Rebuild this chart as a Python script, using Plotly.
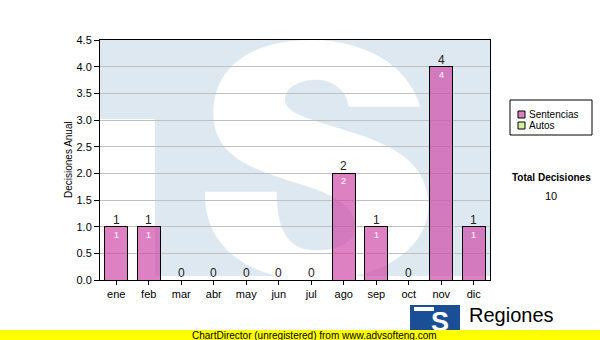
import plotly.graph_objects as go

# ---- data ----
months = ["ene", "feb", "mar", "abr", "may", "jun", "jul", "ago", "sep", "oct", "nov", "dic"]
sentencias = [1, 1, 0, 0, 0, 0, 0, 2, 1, 0, 4, 1]
autos = [0, 0, 0, 0, 0, 0, 0, 0, 0, 0, 0, 0]
y_ticks = [0.0, 0.5, 1.0, 1.5, 2.0, 2.5, 3.0, 3.5, 4.0, 4.5]
series_names = ["Sentencias", "Autos"]
y_title = "Decisiones Anual"
total_title = "Total Decisiones"

totals = [a + b for a, b in zip(sentencias, autos)]
grand_total = sum(totals)

# ---- layout geometry (pixels) ----
W, H = 600, 340
L, R, T, B = 100, 490, 40, 280
PW, PH = R - L, B - T


def px(x):
    return (x - L) / PW


def py(y):
    return (B - y) / PH


BAR_FILL = "rgba(206,70,165,0.68)"
AUTOS_FILL = "#d6f0a2"
WM = "rgb(222,232,241)"
FONT = "Liberation Sans, Arial, sans-serif"

fig = go.Figure()
fig.add_trace(go.Bar(x=months, y=sentencias, name=series_names[0],
                     marker=dict(color=BAR_FILL, line=dict(color="black", width=1)),
                     showlegend=False, hoverinfo="skip"))
fig.add_trace(go.Bar(x=months, y=autos, name=series_names[1],
                     marker=dict(color=AUTOS_FILL, line=dict(color="black", width=1)),
                     showlegend=False, hoverinfo="skip"))

shapes = []
# watermark (decorative logo) in plot-domain coordinates
shapes.append(dict(type="rect", xref="x domain", yref="y domain", layer="below",
                   x0=0, x1=1, y0=py(119), y1=1, fillcolor=WM, line=dict(width=0)))
shapes.append(dict(type="rect", xref="x domain", yref="y domain", layer="below",
                   x0=px(155), x1=1, y0=py(276), y1=py(119), fillcolor=WM, line=dict(width=0)))


def zp(zx, zy):
    X = 95 + zx / 3.0
    Y = 30 + zy / 3.0
    return "%.4f,%.4f" % (px(X), py(Y))


s_cmds = [
    ("M", [(975, 230)]),
    ("C", [(940, 100), (800, 30), (650, 30)]),
    ("C", [(470, 30), (355, 110), (355, 250)]),
    ("C", [(355, 380), (470, 420), (640, 470)]),
    ("C", [(730, 500), (790, 540), (780, 600)]),
    ("C", [(770, 650), (700, 665), (650, 660)]),
    ("C", [(580, 655), (545, 600), (545, 485)]),
    ("L", [(330, 485)]),
    ("C", [(325, 650), (460, 750), (660, 750)]),
    ("C", [(880, 750), (1005, 640), (1000, 520)]),
    ("C", [(995, 400), (900, 350), (780, 310)]),
    ("C", [(640, 265), (565, 250), (570, 205)]),
    ("C", [(575, 160), (640, 145), (680, 150)]),
    ("C", [(730, 160), (760, 195), (760, 230)]),
]
path = " ".join(c + " " + " ".join(zp(*p) for p in pts) for c, pts in s_cmds) + " Z"
shapes.append(dict(type="path", xref="x domain", yref="y domain", layer="below",
                   path=path, fillcolor="white", line=dict(width=0)))

# legend box
shapes.append(dict(type="rect", xref="paper", yref="paper", x0=px(510), x1=px(592),
                   y0=py(135), y1=py(100), line=dict(color="black", width=1), fillcolor="white"))
shapes.append(dict(type="rect", xref="paper", yref="paper", x0=px(518), x1=px(525),
                   y0=py(118), y1=py(111), line=dict(color="black", width=1), fillcolor="#dd80c0"))
shapes.append(dict(type="rect", xref="paper", yref="paper", x0=px(518), x1=px(525),
                   y0=py(129), y1=py(122), line=dict(color="black", width=1), fillcolor=AUTOS_FILL))
# bottom logo
shapes.append(dict(type="rect", xref="paper", yref="paper", x0=px(410), x1=px(460),
                   y0=py(340), y1=py(305), line=dict(width=0), fillcolor="#1b4f95"))
shapes.append(dict(type="rect", xref="paper", yref="paper", x0=px(414), x1=px(434),
                   y0=py(311), y1=py(307), line=dict(width=0), fillcolor="white"))

ann = []


def A(**kw):
    kw.setdefault("xanchor", "center")
    kw.setdefault("yanchor", "middle")
    kw.setdefault("showarrow", False)
    ann.append(kw)


# value labels
for m, t, s in zip(months, totals, sentencias):
    A(x=m, y=t, xref="x", yref="y", text=str(t), yshift=7,
      font=dict(family=FONT, size=12, color="#222"))
    if s > 0:
        A(x=m, y=s, xref="x", yref="y", text=str(s), yshift=-8,
          font=dict(family=FONT, size=9, color="white"))

# y axis title
A(x=px(68), y=py(160), xref="paper", yref="paper", text=y_title, textangle=-90,
  font=dict(family=FONT, size=10, color="black"))
# legend texts
A(x=px(527), y=py(114.5), xref="paper", yref="paper", text=series_names[0], xanchor="left",
  font=dict(family=FONT, size=10, color="black"))
A(x=px(527), y=py(125.5), xref="paper", yref="paper", text=series_names[1], xanchor="left",
  font=dict(family=FONT, size=10, color="black"))
A(x=px(551), y=py(177), xref="paper", yref="paper", text="<b>%s</b>" % total_title,
  font=dict(family=FONT, size=10, color="black"))
A(x=px(551), y=py(196), xref="paper", yref="paper", text=str(grand_total),
  font=dict(family=FONT, size=11, color="black"))
# logo texts
A(x=px(440), y=py(322), xref="paper", yref="paper", text="<b>S</b>",
  font=dict(family=FONT, size=27, color="white"))
A(x=px(467), y=py(315), xref="paper", yref="paper", text="Regiones", xanchor="left",
  font=dict(family=FONT, size=20, color="black"))
A(x=px(469), y=py(336), xref="paper", yref="paper", text="Tribunal Supremo de Justicia",
  xanchor="left", font=dict(family=FONT, size=11, color="black"))
# yellow band
A(x=px(300), y=py(335.5), xref="paper", yref="paper", text=" ", width=604, height=11,
  bgcolor="#ffff00", borderpad=0, borderwidth=0, font=dict(family=FONT, size=8))
A(x=px(190), y=py(335), xref="paper", yref="paper",
  text="ChartDirector (unregistered) from www.advsofteng.com", xanchor="left",
  font=dict(family=FONT, size=10, color="black"))

fig.update_layout(
    width=W, height=H,
    margin=dict(l=L, r=W - R, t=T, b=H - B, pad=0),
    paper_bgcolor="white", plot_bgcolor="white",
    barmode="stack", bargap=0.29,
    shapes=shapes, annotations=ann,
    font=dict(family=FONT, size=11, color="black"),
    xaxis=dict(type="category", showline=True, linecolor="black", linewidth=1, mirror=True,
               ticks="outside", ticklen=4, tickcolor="black", showgrid=False,
               tickfont=dict(family=FONT, size=11, color="black")),
    yaxis=dict(range=[0, 4.5], tickvals=y_ticks, tickformat=".1f", showline=True,
               linecolor="black", linewidth=1, mirror=True, ticks="outside", ticklen=5,
               tickcolor="black", gridcolor="#c0c0c0", gridwidth=1, zeroline=False,
               tickfont=dict(family=FONT, size=11, color="black")),
)

fig.write_html("out.html")
